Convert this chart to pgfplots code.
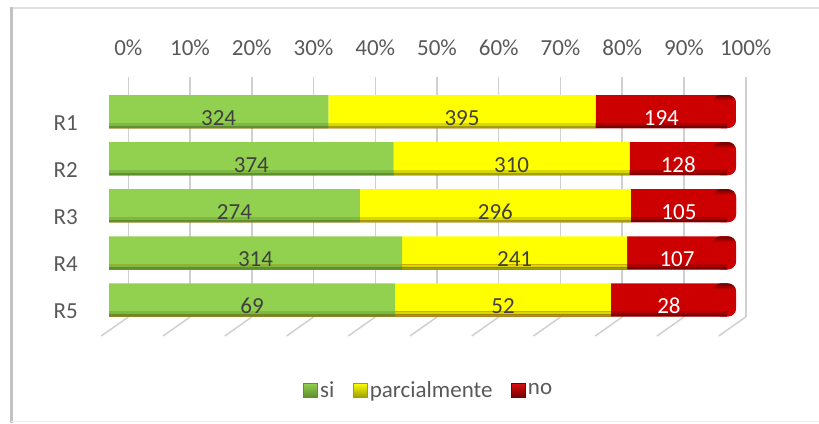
\documentclass[border=0pt]{standalone}
\usepackage{fontspec}
\setmainfont{Carlito}
\usepackage{pgfplots}
\usepackage{pgfplotstable}
\pgfplotsset{compat=1.18}
\definecolor{labelgray}{HTML}{595959}
\definecolor{darklab}{HTML}{404040}
\definecolor{gridgray}{HTML}{D0D0D0}
\definecolor{grB}{HTML}{92D050}
\definecolor{grM}{HTML}{7EB844}
\definecolor{grD}{HTML}{5E902E}
\definecolor{yeB}{HTML}{FFFF00}
\definecolor{yeM}{HTML}{D8D800}
\definecolor{yeD}{HTML}{A0A000}
\definecolor{rdB}{HTML}{CC0000}
\definecolor{rdM}{HTML}{A80000}
\definecolor{rdD}{HTML}{780000}
\definecolor{rdH}{HTML}{DA1010}
\pgfdeclareverticalshading{redcap}{100bp}{color(0bp)=(rdB); color(67.4bp)=(rdB); color(67.5bp)=(rdM); color(71.9bp)=(rdM); color(72bp)=(rdD); color(100bp)=(rdD)}
\pgfdeclareplotmark{cap}{%
  \path[shade, shading=redcap, rounded corners=8pt] (-14pt,-16.5pt) rectangle (9pt,16.5pt);%
}
\newcommand\sz{\fontsize{23}{27}\selectfont}
\pgfplotstableread{
cat si pa no
1 324 395 194
2 374 310 128
3 274 296 105
4 314 241 107
5 69 52 28
}\data
\begin{document}
\begin{tikzpicture}[x=1pt,y=1pt]
\useasboundingbox (0,0) rectangle (819,423);
\draw[color=black!12, line width=1.5pt] (11,415) -- (819,415);
\draw[color=black!24, line width=3pt] (11.5,0) -- (11.5,415.75);
\draw[color=black!7, line width=1pt] (11,2) -- (819,2);

\begin{axis}[at={(128.3pt,106pt)}, anchor=south west, scale only axis,
  width=617.4pt, height=240pt, xmin=0, xmax=100, ymin=0, ymax=1,
  xtick={0,10,...,100}, ytick=\empty, xmajorgrids,
  grid style={gridgray, line width=1.5pt},
  axis line style={draw=none}, major tick length=0pt,
  xticklabel pos=upper,
  /pgf/number format/assume math mode=true,
  xticklabel={\pgfmathprintnumber{\tick}\%},
  xticklabel style={anchor=base, inner sep=0pt, yshift=21pt, text=labelgray, font=\sz}]
\addplot[draw=none] coordinates {(0,0)};
\end{axis}
\draw[gridgray, line width=2.5pt] (746,106) -- (746,346);

\foreach \t in {0,...,10} \draw[gridgray, line width=1.5pt] ({128.3+61.74*\t},106) -- ++(-27,-19);

\begin{axis}[at={(109pt,99.55pt)}, anchor=south west, scale only axis,
  width=618pt, height=235.5pt, xmin=0, xmax=100, ymin=0.5, ymax=5.5,
  y dir=reverse, xbar stacked, bar width=33pt, clip=false,
  ytick={1,2,3,4,5}, yticklabels={R1,R2,R3,R4,R5}, xtick=\empty,
  axis line style={draw=none}, major tick length=0pt,
  yticklabel style={anchor=base east, inner sep=0pt, xshift=-31pt, yshift=-18.5pt, text=labelgray, font=\sz},
  legend style={at={(0.5178,-0.2826)}, anchor=center, draw=none, fill=none,
    font=\sz, text=labelgray, nodes={inner sep=2.5pt},
    /tikz/every even column/.append style={column sep=16pt}},
  legend columns=-1]
\addplot[draw=none, fill=grB,
  legend image code/.code={\path[top color=grB, bottom color=grD, draw=grD] (0pt,-7pt) rectangle (14pt,7pt);}]
  table[y=cat, x expr={100*\thisrow{si}/(\thisrow{si}+\thisrow{pa}+\thisrow{no})}] {\data};
\addlegendentry{si}
\addplot[draw=none, fill=yeB,
  legend image code/.code={\path[top color=yeB, bottom color=yeD, draw=yeD] (0pt,-7pt) rectangle (14pt,7pt);}]
  table[y=cat, x expr={100*\thisrow{pa}/(\thisrow{si}+\thisrow{pa}+\thisrow{no})}] {\data};
\addlegendentry{parcialmente}
\addplot[draw=none, fill=rdB, mark=cap,
  legend image code/.code={\path[top color=rdH, bottom color=rdD, draw=rdD] (0pt,-7pt) rectangle (14pt,7pt);}]
  table[y=cat, x expr={100*\thisrow{no}/(\thisrow{si}+\thisrow{pa}+\thisrow{no})}] {\data};
\addlegendentry{no}
\end{axis}

\begin{axis}[at={(109pt,99.55pt)}, anchor=south west, scale only axis,
  width=618pt, height=235.5pt, xmin=0, xmax=100, ymin=0.5, ymax=5.5,
  y dir=reverse, hide axis, clip=false,
  /pgf/number format/assume math mode=true,
  every node near coord/.append style={anchor=base, inner sep=0pt, yshift=-13.5pt, font=\sz}]
% shading strips at the bottom of each bar (drawn from the same data)
\addplot[xbar, bar width=5pt, bar shift=-14pt, draw=none, fill=rdM, forget plot]
  table[y=cat, x expr={100*(\thisrow{si}+\thisrow{pa}+\thisrow{no})/(\thisrow{si}+\thisrow{pa}+\thisrow{no})}] {\data};
\addplot[xbar, bar width=5pt, bar shift=-14pt, draw=none, fill=yeM, forget plot]
  table[y=cat, x expr={100*(\thisrow{si}+\thisrow{pa})/(\thisrow{si}+\thisrow{pa}+\thisrow{no})}] {\data};
\addplot[xbar, bar width=5pt, bar shift=-14pt, draw=none, fill=grM, forget plot]
  table[y=cat, x expr={100*\thisrow{si}/(\thisrow{si}+\thisrow{pa}+\thisrow{no})}] {\data};
\addplot[xbar, bar width=2pt, bar shift=-15.5pt, draw=none, fill=rdD, forget plot]
  table[y=cat, x expr={100*(\thisrow{si}+\thisrow{pa}+\thisrow{no})/(\thisrow{si}+\thisrow{pa}+\thisrow{no})}] {\data};
\addplot[xbar, bar width=2pt, bar shift=-15.5pt, draw=none, fill=yeD, forget plot]
  table[y=cat, x expr={100*(\thisrow{si}+\thisrow{pa})/(\thisrow{si}+\thisrow{pa}+\thisrow{no})}] {\data};
\addplot[xbar, bar width=2pt, bar shift=-15.5pt, draw=none, fill=grD, forget plot]
  table[y=cat, x expr={100*\thisrow{si}/(\thisrow{si}+\thisrow{pa}+\thisrow{no})}] {\data};
% value labels
\addplot[draw=none, mark=none, nodes near coords, point meta=explicit, every node near coord/.append style={text=darklab}]
  table[y=cat, x expr={50*\thisrow{si}/(\thisrow{si}+\thisrow{pa}+\thisrow{no})}, meta=si] {\data};
\addplot[draw=none, mark=none, nodes near coords, point meta=explicit, every node near coord/.append style={text=darklab}]
  table[y=cat, x expr={100*(\thisrow{si}+0.5*\thisrow{pa})/(\thisrow{si}+\thisrow{pa}+\thisrow{no})}, meta=pa] {\data};
\addplot[draw=none, mark=none, nodes near coords, point meta=explicit, every node near coord/.append style={text=white}]
  table[y=cat, x expr={100*(\thisrow{si}+\thisrow{pa}+0.5*\thisrow{no})/(\thisrow{si}+\thisrow{pa}+\thisrow{no})}, meta=no] {\data};
\end{axis}
\end{tikzpicture}
\end{document}
